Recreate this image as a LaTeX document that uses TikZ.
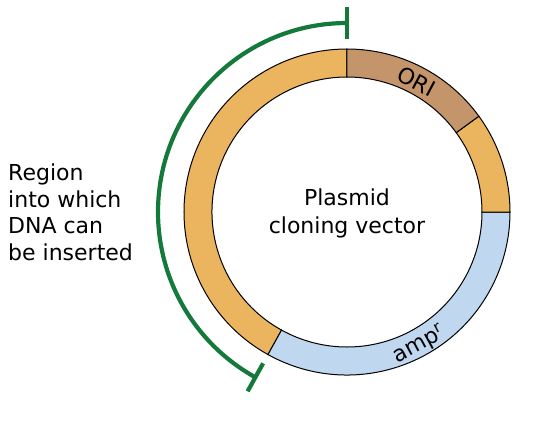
\documentclass[tikz,border=0pt]{standalone}
\usepackage{fontspec}
\setmainfont{DejaVu Sans}
\definecolor{seqorange}{HTML}{EBB45E}
\definecolor{seqbrown}{HTML}{C4956A}
\definecolor{seqblue}{HTML}{BFD8F0}
\definecolor{seqgreen}{HTML}{137A3C}
\begin{document}
\begin{tikzpicture}[x=1pt,y=1pt,
  seg/.style={draw=black, line width=1pt},
  lbl/.style={font=\fontsize{22}{28}\selectfont, inner sep=0pt},
  bracket/.style={draw=seqgreen, line width=4.2pt}]
\useasboundingbox (-347,-212) rectangle (205,212);
\def\Ro{163}\def\Ri{135}
% ring segments
\filldraw[seg, fill=seqorange] (90:\Ro) arc[start angle=90, end angle=241, radius=\Ro] -- (241:\Ri) arc[start angle=241, end angle=90, radius=\Ri] -- cycle;
\filldraw[seg, fill=seqblue] (241:\Ro) arc[start angle=241, end angle=360, radius=\Ro] -- (0:\Ri) arc[start angle=360, end angle=241, radius=\Ri] -- cycle;
\filldraw[seg, fill=seqorange] (0:\Ro) arc[start angle=0, end angle=36, radius=\Ro] -- (36:\Ri) arc[start angle=36, end angle=0, radius=\Ri] -- cycle;
\filldraw[seg, fill=seqbrown] (36:\Ro) arc[start angle=36, end angle=90, radius=\Ro] -- (90:\Ri) arc[start angle=90, end angle=36, radius=\Ri] -- cycle;
% labels on ring
\node[lbl, font=\fontsize{22}{26}\selectfont, rotate=-28] (ori) at (62:148) {ORI};
\node[lbl, font=\fontsize{22}{26}\selectfont, rotate=28.5] (amp) at (-61.5:151) {amp$^{\mathrm{r}}$};
% centre text
\node[lbl, align=center, anchor=base] (title) at (0,-21) {Plasmid\\cloning vector};
% green bracket
\coordinate (gtop) at (90:189);
\coordinate (gbot) at (241:189);
\draw[bracket] (gtop) arc[start angle=90, end angle=241, radius=189];
\draw[bracket] (90:173) -- (90:205);
\draw[bracket] (241:173) -- (241:205);
% left text
\node[lbl, align=left, anchor=base west, font=\fontsize{22}{26.4}\selectfont] (region) at (-339,-48) {Region\\into which\\DNA can\\be inserted};
\end{tikzpicture}
\end{document}
